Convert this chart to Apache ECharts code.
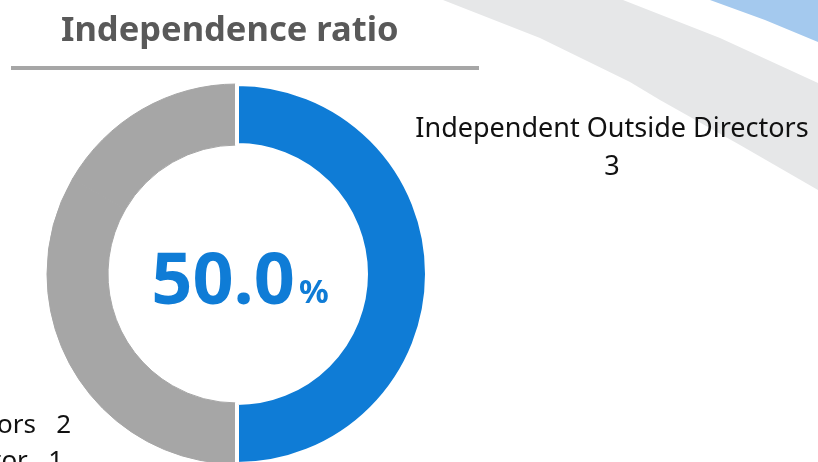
<!DOCTYPE html>
<html>
<head>
<meta charset="utf-8">
<script src="https://cdn.jsdelivr.net/npm/echarts@6/dist/echarts.min.js"></script>
<style>html,body{margin:0;padding:0;background:#fff;}#chart{width:818px;height:462px;}</style>
</head>
<body>
<div id="chart"></div>
<script>
// ---- data ----
var titleText = 'Independence ratio';
var categories = ['Inside Directors', 'Non-Independent Outside Director', 'Independent Outside Directors'];
var values = [2, 1, 3];
var colors = ['#a6a6a6', '#a6a6a6', '#0f7cd6'];
var independentIndex = 2;

var total = values.reduce(function (a, b) { return a + b; }, 0);
var ratio = (values[independentIndex] / total * 100).toFixed(1);

var chart = echarts.init(document.getElementById('chart'), null, {renderer: 'canvas'});
var FONT = '"Noto Sans", "Open Sans", sans-serif';

var data = categories.map(function (c, i) {
  var isBlue = i === independentIndex;
  return {
    name: c,
    value: values[i],
    itemStyle: {
      color: colors[i],
      borderColor: isBlue ? '#ffffff' : colors[i],
      borderWidth: isBlue ? 4 : 1
    },
    label: isBlue ? {
      formatter: '{b}\n{c}',
      align: 'center',
      lineHeight: 38,
      fontSize: 27
    } : {
      formatter: '{b}   {c}',
      align: 'right',
      lineHeight: 30
    }
  };
});

var labelPos = {
  0: {x: 71, y: 426, align: 'right'},
  1: {x: 63, y: 462, align: 'right'},
  2: {x: 612, y: 148, align: 'center'}
};

chart.setOption({
  backgroundColor: '#ffffff',
  animation: false,
  title: {
    text: titleText,
    left: 56,
    top: 9,
    textStyle: {fontFamily: FONT, fontWeight: 'bold', fontSize: 34.5, color: '#595959'}
  },
  graphic: [
    {type: 'polygon', z: -10, shape: {points: [[443,0],[623,0],[720,38],[818,83],[818,190],[740,145],[660,100],[630,82],[540,38]]}, style: {fill: '#e6e7e8'}},
    {type: 'polygon', z: -10, shape: {points: [[710,0],[818,0],[818,42],[765,20]]}, style: {fill: '#a4c9ee'}},
    {type: 'line', z: 5, shape: {x1: 11, y1: 68, x2: 479, y2: 68}, style: {stroke: '#a6a6a6', lineWidth: 4}},
    {
      type: 'text', z: 10,
      x: 240, y: 283,
      style: {
        text: '{a|' + ratio + '}{b|%}',
        align: 'center',
        verticalAlign: 'middle',
        rich: {
          a: {fontFamily: FONT, fontWeight: 'bold', fontSize: 72, fill: '#0f7cd6', color: '#0f7cd6'},
          b: {fontFamily: FONT, fontWeight: 'bold', fontSize: 33, fill: '#0f7cd6', color: '#0f7cd6', padding: [22, 0, 0, 4]}
        }
      }
    }
  ],
  series: [{
    type: 'pie',
    center: [237, 274],
    radius: [129, 190],
    startAngle: 270,
    clockwise: true,
    silent: true,
    avoidLabelOverlap: false,
    label: {
      show: true,
      position: 'outside',
      fontFamily: FONT,
      fontSize: 26,
      color: '#111111'
    },
    labelLine: {show: false},
    labelLayout: function (params) {
      var p = labelPos[params.dataIndex];
      return {x: p.x, y: p.y, align: p.align, verticalAlign: 'middle', hideOverlap: false};
    },
    data: data
  }]
});
</script>
</body>
</html>
